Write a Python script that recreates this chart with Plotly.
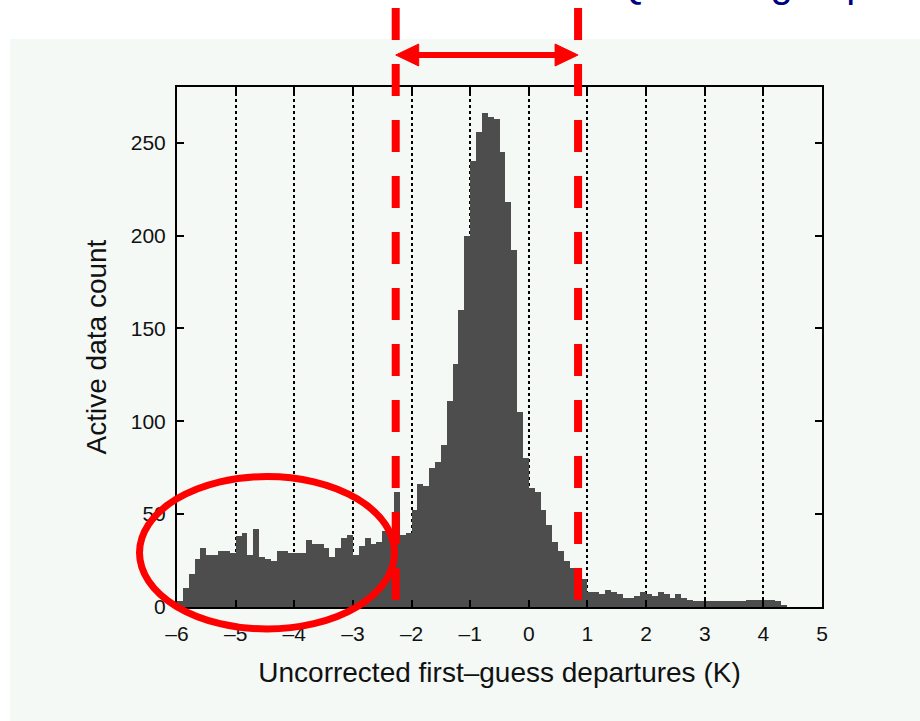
import plotly.graph_objects as go

# Histogram of uncorrected first-guess departures (0.1 K bins starting at -6 K)
bin_start = -6.0
bin_width = 0.1
counts = [
    3, 10, 18, 26, 32, 28, 28, 30, 30, 29,
    38, 40, 28, 42, 27, 26, 25, 30, 30, 29,
    29, 29, 36, 34, 34, 32, 27, 32, 37, 39,
    28, 33, 37, 34, 35, 41, 41, 62, 39, 40,
    52, 66, 65, 75, 78, 87, 111, 131, 160, 200,
    240, 256, 266, 264, 263, 245, 218, 192, 105, 80,
    64, 62, 52, 44, 35, 30, 25, 21, 17, 15,
    8, 8, 7, 9, 8, 7, 5, 5, 6, 8,
    7, 6, 8, 7, 5, 7, 5, 4, 3, 3,
    3, 3, 3, 3, 3, 3, 3, 4, 4, 4,
    4, 4, 3, 1,
]
bin_centers = [bin_start + bin_width * (i + 0.5) for i in range(len(counts))]

x_ticks = [-6, -5, -4, -3, -2, -1, 0, 1, 2, 3, 4, 5]
y_ticks = [0, 50, 100, 150, 200, 250]
x_range = [-6, 5]
y_range = [0, 280]

# background-check limits marked on the plot
qc_limits = [-2.27, 0.84]

slide_title = "Selection of data: the QC acting in presence of bias"

W, H = 920, 721
ML, MR, MT, MB = 177, 98, 87, 114
PW = W - ML - MR
PH = H - MT - MB
FONT = "Liberation Sans, Arial, sans-serif"


def px_x(px):
    return (px - ML) / PW


def px_y(py):
    return (H - MB - py) / PH


def data_x(v):
    return (v - x_range[0]) / (x_range[1] - x_range[0])


RED = "#ff0000"
PANEL = "#f4f9f6"

fig = go.Figure()
fig.add_trace(go.Bar(
    x=bin_centers,
    y=counts,
    width=bin_width,
    marker=dict(color="#4d4d4d", line=dict(width=0)),
    hoverinfo="x+y",
))

shapes = []
# light slide panel behind the figure
shapes.append(dict(type="rect", xref="paper", yref="paper",
                   x0=px_x(10), x1=px_x(W + 5), y0=px_y(H + 5), y1=px_y(39),
                   fillcolor=PANEL, line=dict(width=0), layer="below"))

# dashed red limit lines, running from above the axes down to the baseline
for q in qc_limits:
    shapes.append(dict(type="line", xref="paper", yref="paper",
                       x0=data_x(q), x1=data_x(q), y0=px_y(8), y1=px_y(600),
                       line=dict(color=RED, width=8, dash="32px,24px"),
                       layer="above"))

# double-headed arrow between the limits
xa, xb = data_x(qc_limits[0]), data_x(qc_limits[1])
ya = px_y(55)
head_len = 23 / PW
head_half = 11 / PH
shapes.append(dict(type="line", xref="paper", yref="paper",
                   x0=xa + head_len * 0.8, x1=xb - head_len * 0.8, y0=ya, y1=ya,
                   line=dict(color=RED, width=6), layer="above"))
shapes.append(dict(type="path", xref="paper", yref="paper",
                   path=f"M {xa} {ya} L {xa + head_len} {ya + head_half} L {xa + head_len} {ya - head_half} Z",
                   fillcolor=RED, line=dict(color=RED, width=1), layer="above"))
shapes.append(dict(type="path", xref="paper", yref="paper",
                   path=f"M {xb} {ya} L {xb - head_len} {ya + head_half} L {xb - head_len} {ya - head_half} Z",
                   fillcolor=RED, line=dict(color=RED, width=1), layer="above"))

# ellipse around the cold-tail data
shapes.append(dict(type="circle", xref="paper", yref="paper",
                   x0=px_x(139.5), x1=px_x(394.5), y0=px_y(629), y1=px_y(476.5),
                   line=dict(color=RED, width=7), layer="above"))

axis_common = dict(
    showline=True, linecolor="black", linewidth=2, mirror="ticks",
    ticks="inside", ticklen=7, tickwidth=2, tickcolor="black",
    tickfont=dict(family=FONT, size=21, color="#111111"),
    zeroline=False, fixedrange=True,
)

fig.update_layout(
    width=W, height=H, autosize=False,
    margin=dict(l=ML, r=MR, t=MT, b=MB, pad=0),
    paper_bgcolor="white", plot_bgcolor=PANEL,
    showlegend=False, bargap=0,
    shapes=shapes,
    xaxis=dict(axis_common, range=x_range, tickmode="array", tickvals=x_ticks,
               ticktext=[f"\u2013{abs(t)}" if t < 0 else str(t) for t in x_ticks],
               showgrid=True, gridcolor="black", gridwidth=2, griddash="dot",
               ticklabelstandoff=7,
               title=dict(text="Uncorrected first\u2013guess departures (K)",
                          font=dict(family=FONT, size=28, color="#111111"),
                          standoff=18)),
    yaxis=dict(axis_common, range=y_range, tickmode="array", tickvals=y_ticks,
               showgrid=False, ticklabelstandoff=5,
               title=dict(text="Active data count",
                          font=dict(family=FONT, size=28, color="#111111"),
                          standoff=16)),
    annotations=[dict(
        text=slide_title, xref="paper", yref="paper",
        x=px_x(226), y=px_y(7), xanchor="left", yanchor="bottom",
        showarrow=False,
        font=dict(family=FONT, size=40, color="#000080"),
    )],
)

fig.write_html("out.html")
